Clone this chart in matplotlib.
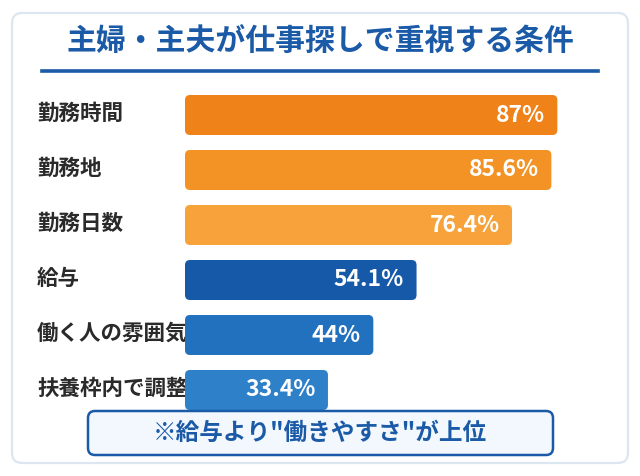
import matplotlib
matplotlib.use("Agg")
import matplotlib.pyplot as plt
import matplotlib.transforms as mtransforms
from matplotlib.patches import FancyBboxPatch
from matplotlib.lines import Line2D

plt.rcParams['font.family'] = ['Noto Sans CJK JP', 'DejaVu Sans']

# data
title = "主婦・主夫が仕事探しで重視する条件"
categories = ["勤務時間", "勤務地", "勤務日数", "給与", "働く人の雰囲気", "扶養枠内で調整"]
values = [87, 85.6, 76.4, 54.1, 44, 33.4]
value_labels = ["87%", "85.6%", "76.4%", "54.1%", "44%", "33.4%"]
colors = ["#f0821a", "#f39325", "#f7a23a", "#1559a8", "#2271bf", "#2e80c9"]
note = "※給与より\"働きやすさ\"が上位"

W, H = 640, 476
fig = plt.figure(figsize=(W / 100, H / 100), dpi=100)

# pixel coordinates, origin at top-left
px = mtransforms.Affine2D().scale(1, -1).translate(0, H).scale(1 / W, 1 / H) + fig.transFigure

# outer card
fig.patches.append(FancyBboxPatch((12, 13), 616, 450,
                                  boxstyle="round,pad=0,rounding_size=10",
                                  transform=px, facecolor="white",
                                  edgecolor="#dce6f0", linewidth=1.6, zorder=-1))

# title + underline
fig.text(320, 41, title, transform=px, ha="center", va="center",
         fontsize=21.5, fontweight="bold", color="#1a5aa6")
fig.lines.append(Line2D([42, 598], [70.5, 70.5], transform=px,
                        color="#1a5aa6", linewidth=2.6))

# bar area: 0..100% maps to x 185..613 px, rows centered at 115 + 55*i px
ax = fig.add_axes([185 / W, 1 - 417.5 / H, 428 / W, 330 / H])
ax.set_xlim(0, 100)
ax.set_ylim(5.5, -0.5)
ax.axis("off")
ax.patch.set_visible(False)

bar_h = 40 / 55
r_x = 5 / 4.28
aspect = (5 / 55) / r_x
label_tr = mtransforms.blended_transform_factory(fig.transFigure, ax.transData)

for i, (cat, v, lab, c) in enumerate(zip(categories, values, value_labels, colors)):
    ax.text(37 / W, i - 0.03, cat, transform=label_tr, ha="left", va="center",
            fontsize=15.5, fontweight="bold", color="#2a2a2a", zorder=1)
    ax.add_patch(FancyBboxPatch((0, i - bar_h / 2), v, bar_h,
                                boxstyle=f"round,pad=0,rounding_size={r_x}",
                                mutation_aspect=aspect,
                                facecolor=c, edgecolor="none", zorder=2))
    ax.text(v - 2.9, i, lab, ha="right", va="center", fontsize=16.5,
            fontweight="bold", color="white", zorder=3)

# note box
fig.patches.append(FancyBboxPatch((88, 411), 465, 44,
                                  boxstyle="round,pad=0,rounding_size=7",
                                  transform=px, facecolor="#f3f8ff",
                                  edgecolor="#1a5aa6", linewidth=1.8, zorder=5))
fig.text(320, 433, note, transform=px, ha="center", va="center",
         fontsize=17, fontweight="bold", color="#1a5aa6", zorder=6)

fig.savefig("out.png", dpi=100, facecolor="white")
